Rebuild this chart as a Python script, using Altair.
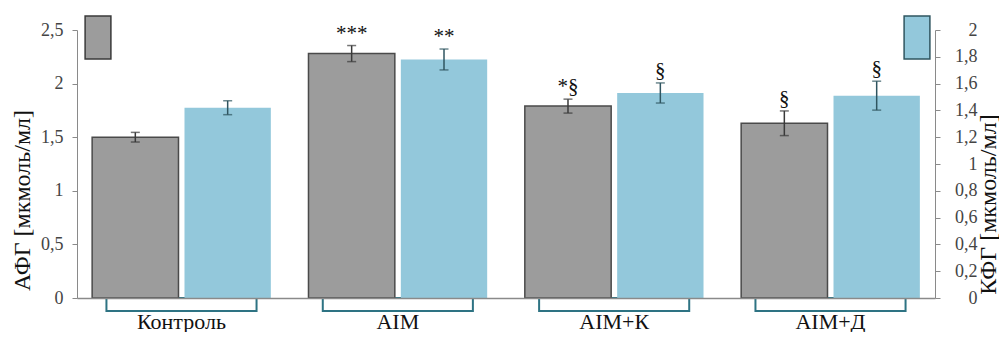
import altair as alt
import pandas as pd

categories = ["Контроль", "AIM", "AIM+К", "AIM+Д"]
series = ["АФГ", "КФГ"]
afg_values = [1.50, 2.28, 1.79, 1.63]
afg_errors = [0.045, 0.075, 0.065, 0.115]
afg_marks = ["", "***", "*§", "§"]
kfg_values = [1.42, 1.78, 1.53, 1.51]
kfg_errors = [0.052, 0.078, 0.075, 0.108]
kfg_marks = ["", "**", "§", "§"]
left_ticks = [0, 0.5, 1, 1.5, 2, 2.5]
right_ticks = [0, 0.2, 0.4, 0.6, 0.8, 1, 1.2, 1.4, 1.6, 1.8, 2]

df = pd.DataFrame({
    "cat": categories * 2,
    "series": [series[0]] * 4 + [series[1]] * 4,
    "value": afg_values + kfg_values,
    "err": afg_errors + kfg_errors,
    "mark": afg_marks + kfg_marks,
})
df["lo"] = df["value"] - df["err"]
df["hi"] = df["value"] + df["err"]

SERIF = "Liberation Serif"
GRAY = "#9c9c9c"
BLUE = "#93c8db"
AXIS_C = "#8a8a8a"

x_enc = alt.X("cat:N", sort=categories,
              scale=alt.Scale(paddingInner=0.174, paddingOuter=0.07),
              axis=alt.Axis(title=None, orient="bottom", ticks=False, domainColor=AXIS_C,
                            domainWidth=1.5, labelFont=SERIF, labelFontSize=22,
                            labelColor="#111", labelPadding=13, labelAngle=0, zindex=1))
xo_enc = alt.XOffset("series:N", scale=alt.Scale(domain=series, paddingInner=0.065))


def y_axis(orient, ticks, title, title_x, title_y):
    return alt.Axis(orient=orient, values=ticks, grid=False,
                    labelExpr="replace(format(datum.value, '~g'), '.', ',')",
                    tickSize=5, tickColor=AXIS_C, domainColor=AXIS_C,
                    labelFont=SERIF, labelFontSize=18, labelColor="#444",
                    labelPadding=9 if orient == "left" else 37,
                    labelAlign="right",
                    title=title, titleFont=SERIF, titleFontSize=24,
                    titleFontWeight="normal", titleColor="#111",
                    titleAngle=270, titleAlign="center", titleBaseline="middle",
                    titleX=title_x, titleY=title_y)


def group(name, color, stroke, err_color, orient, ticks, domain, title, title_x, title_y, legend_x):
    axis = y_axis(orient, ticks, title, title_x, title_y)
    scale = alt.Scale(domain=domain, nice=False, zero=True)
    base = alt.Chart(df).transform_filter(alt.datum.series == name)
    layers = []
    if orient == "left":
        brackets = base.mark_bar(width={"band": 0.84}, fillOpacity=0,
                                 stroke="#2e7383", strokeWidth=2).encode(
            x=x_enc, y=alt.value(268), y2=alt.value(281))
        layers.append(brackets)
    bar_kwargs = dict(stroke=stroke, strokeWidth=1.5) if stroke else {}
    bars = base.mark_bar(**bar_kwargs).encode(
        x=x_enc, xOffset=xo_enc,
        y=alt.Y("value:Q", scale=scale, axis=axis, title=title),
        color=alt.Color("series:N",
                        scale=alt.Scale(domain=[name], range=[color]),
                        legend=alt.Legend(orient="none", title=None,
                                          legendX=legend_x, legendY=-15,
                                          labelExpr="''", padding=0,
                                          symbolType="M-0.6,-1H0.6V1H-0.6Z",
                                          symbolSize=1849, symbolOpacity=1,
                                          symbolStrokeColor=err_color,
                                          symbolStrokeWidth=1.5,
                                          symbolOffset=0)),
    )
    rules = base.mark_rule(color=err_color, strokeWidth=1.5).encode(
        x=x_enc, xOffset=xo_enc,
        y=alt.Y("lo:Q", scale=scale, axis=axis, title=title), y2="hi:Q")
    caps_hi = base.mark_tick(color=err_color, size=9, thickness=1.5).encode(
        x=x_enc, xOffset=xo_enc, y=alt.Y("hi:Q", scale=scale, axis=axis, title=title))
    caps_lo = base.mark_tick(color=err_color, size=9, thickness=1.5).encode(
        x=x_enc, xOffset=xo_enc, y=alt.Y("lo:Q", scale=scale, axis=axis, title=title))
    labels = base.mark_text(font=SERIF, fontSize=21, color="#111",
                            baseline="bottom", dy=-2).encode(
        x=x_enc, xOffset=xo_enc,
        y=alt.Y("hi:Q", scale=scale, axis=axis, title=title), text="mark:N")
    layers += [bars, rules, caps_hi, caps_lo, labels]
    return alt.layer(*layers)


layer_a = group("АФГ", GRAY, "#4a4a4a", "#3a3a3a", "left", left_ticks, [0, 2.5],
                "АФГ [мкмоль/мл]", -55, 170, -1.5)
layer_b = group("КФГ", BLUE, None, "#2f5560", "right", right_ticks, [0, 2],
                "КФГ [мкмоль/мл]", 53, 174, 817.5)

chart = alt.layer(layer_a, layer_b).resolve_scale(
    y="independent", color="independent"
).properties(
    width=858, height=268,
    padding={"left": 69, "top": 22, "right": 64, "bottom": 34},
    autosize=alt.AutoSizeParams(type="none"),
).configure_view(stroke=None)

chart.save("out.html", embed_options={"renderer": "svg", "actions": False})
